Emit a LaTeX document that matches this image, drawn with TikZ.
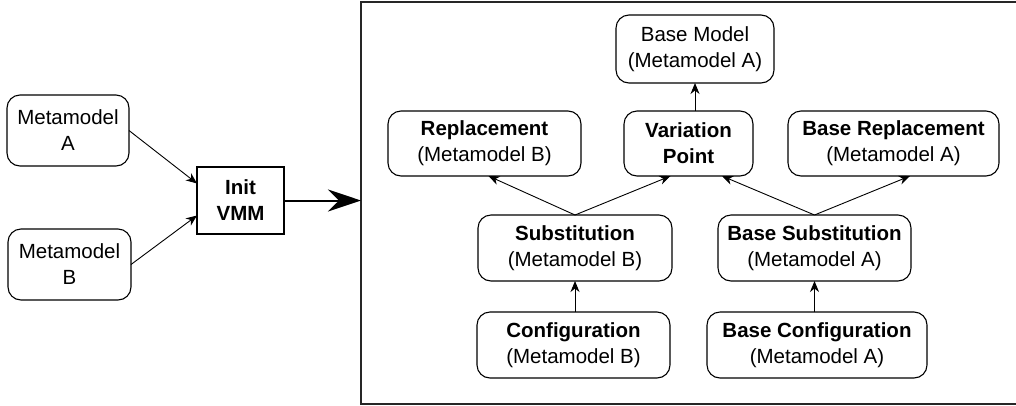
\documentclass[tikz,border=0pt]{standalone}
\usepackage{fontspec}
\setmainfont{Liberation Sans}
\usetikzlibrary{arrows.meta,calc}

\begin{document}
\begin{tikzpicture}[x=1pt,y=-1pt,
  label font/.style={font=\fontsize{20.5}{26}\selectfont},
  rbox/.style={draw, rounded corners=13pt, line width=1.1pt, align=center,
    inner sep=0pt, outer sep=0pt, label font},
  sbox/.style={draw, line width=1.1pt, align=center, inner sep=0pt, outer sep=0pt, label font},
  arr/.style={-{Stealth[length=11pt,width=9pt,inset=3.5pt]}, line width=0.9pt},
  bigarr/.style={-{Stealth[length=33pt,width=22pt,inset=11pt]}, line width=2pt},
]
\useasboundingbox (0,0) rectangle (1016,405);

% inputs
\node[rbox, minimum width=122pt, minimum height=71pt] (mA) at (68,130.5) {Metamodel\\A};
\node[rbox, minimum width=123pt, minimum height=71pt] (mB) at (69.5,264.5) {Metamodel\\B};
\node[sbox, minimum width=87pt, minimum height=67pt] (init) at (240.5,200.5) {\textbf{Init}\\\textbf{VMM}};

% container
\node[draw, line width=2pt, color=black!85, inner sep=0pt, outer sep=0pt,
      minimum width=680pt, minimum height=402pt, anchor=north west] (frame) at (361,2) {};

% inside the container
\node[rbox, minimum width=158pt, minimum height=68pt] (base) at (695,49) {Base Model\\(Metamodel A)};
\node[rbox, minimum width=193pt, minimum height=65pt] (repl) at (484.5,143.5) {\textbf{Replacement}\\(Metamodel B)};
\node[rbox, minimum width=129pt, minimum height=65pt] (vp) at (688.5,143.5) {\textbf{Variation}\\\textbf{Point}};
\node[rbox, minimum width=211pt, minimum height=65pt] (brepl) at (893.5,143.5) {\textbf{Base Replacement}\\(Metamodel A)};
\node[rbox, minimum width=194pt, minimum height=66pt] (sub) at (575,248) {\textbf{Substitution}\\(Metamodel B)};
\node[rbox, minimum width=193pt, minimum height=66pt] (bsub) at (814.5,248) {\textbf{Base Substitution}\\(Metamodel A)};
\node[rbox, minimum width=193pt, minimum height=66pt] (conf) at (573.5,345) {\textbf{Configuration}\\(Metamodel B)};
\node[rbox, minimum width=220pt, minimum height=66pt] (bconf) at (817,345) {\textbf{Base Configuration}\\(Metamodel A)};

% connectors
\draw[arr] (mA.east) -- ([yshift=17pt]init.west);
\draw[arr] (mB.east) -- ([yshift=-15pt]init.west);
\draw[bigarr] (init.east) -- (init.east -| frame.west);

\draw[arr] (vp.north -| base.south) -- (base.south);
\draw[arr] (sub.north) -- ([xshift=4pt]repl.south);
\draw[arr] (sub.north) -- ([xshift=-18pt]vp.south);
\draw[arr] (bsub.north) -- ([xshift=33.5pt]vp.south);
\draw[arr] (bsub.north) -- ([xshift=16.5pt]brepl.south);
\draw[arr] (sub.south |- conf.north) -- (sub.south);
\draw[arr] (bsub.south |- bconf.north) -- (bsub.south);
\end{tikzpicture}
\end{document}
